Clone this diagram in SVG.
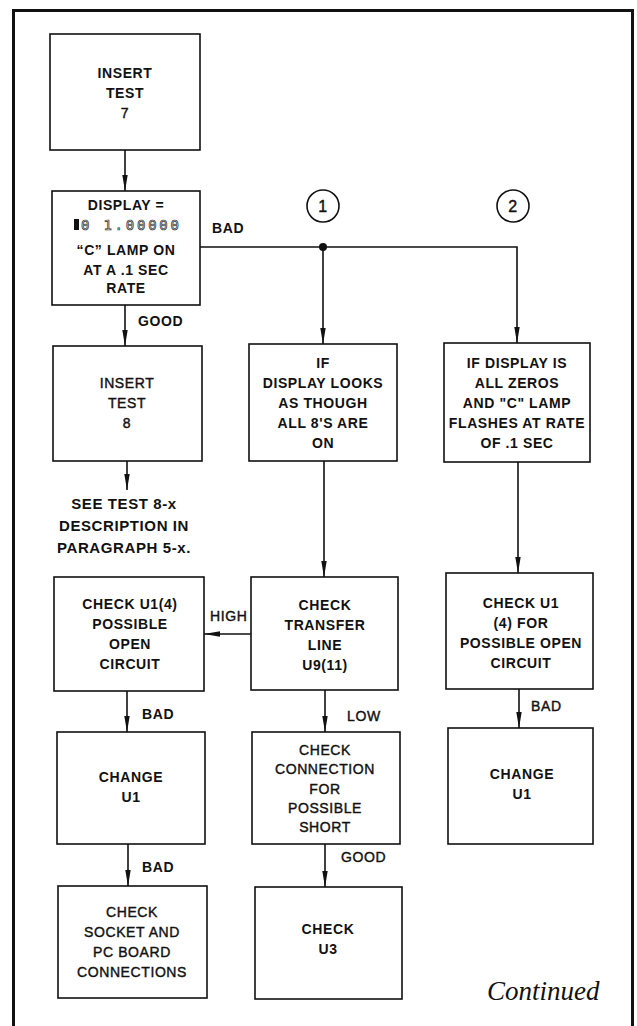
<svg xmlns="http://www.w3.org/2000/svg" width="637" height="1026" viewBox="0 0 637 1026">
<style>
.t{font-family:"Liberation Sans",Arial,sans-serif;font-weight:bold;font-size:14px;letter-spacing:0.6px;text-anchor:middle;fill:#111}
.r{font-weight:normal;stroke:#111;stroke-width:0.4}
.s{text-anchor:start}
.box{fill:#fff;stroke:#111;stroke-width:1.6}
.ln{fill:none;stroke:#111;stroke-width:1.6}
.fr{fill:none;stroke:#111;stroke-width:3}
</style>
<defs>
<marker id="ah" markerUnits="userSpaceOnUse" markerWidth="17" markerHeight="7" refX="16" refY="3.5" orient="auto">
<path d="M0,0.8 L16,3.5 L0,6.2 z" fill="#111"/>
</marker>
</defs>
<rect width="637" height="1026" fill="#fff"/>
<path class="fr" d="M13.5,1026 V10.5 H632.5 V1026"/>

<g id="connectors">
<line class="ln" x1="125" y1="150" x2="125" y2="191" marker-end="url(#ah)"/>
<polyline class="ln" points="200,247 517,247 517,343" marker-end="url(#ah)"/>
<circle cx="323" cy="247" r="4" fill="#111"/>
<line class="ln" x1="323" y1="247" x2="323" y2="344" marker-end="url(#ah)"/>
<line class="ln" x1="125" y1="305" x2="125" y2="346" marker-end="url(#ah)"/>
<line class="ln" x1="127" y1="461" x2="127" y2="490" marker-end="url(#ah)"/>
<line class="ln" x1="324" y1="461" x2="324" y2="577" marker-end="url(#ah)"/>
<line class="ln" x1="518" y1="462" x2="518" y2="573" marker-end="url(#ah)"/>
<line class="ln" x1="251" y1="634" x2="204" y2="634" marker-end="url(#ah)"/>
<line class="ln" x1="127" y1="691" x2="127" y2="732" marker-end="url(#ah)"/>
<line class="ln" x1="325" y1="690" x2="325" y2="732" marker-end="url(#ah)"/>
<line class="ln" x1="519" y1="689" x2="519" y2="728" marker-end="url(#ah)"/>
<line class="ln" x1="128" y1="844" x2="128" y2="886" marker-end="url(#ah)"/>
<line class="ln" x1="325" y1="844" x2="325" y2="887" marker-end="url(#ah)"/>
<text class="t s" x="212" y="233">BAD</text>
<text class="t s" x="138" y="326">GOOD</text>
<text class="t s r" x="210" y="621">HIGH</text>
<text class="t s" x="142" y="719">BAD</text>
<text class="t s r" x="347" y="721">LOW</text>
<text class="t s r" x="531" y="711">BAD</text>
<text class="t s" x="142" y="872">BAD</text>
<text class="t s r" x="341" y="862">GOOD</text>
</g>

<g id="c1"><circle cx="323" cy="206" r="16" class="ln"/><text class="t r" x="323" y="212" style="font-size:16px">1</text></g>
<g id="c2"><circle cx="513" cy="206" r="16" class="ln"/><text class="t r" x="513" y="212" style="font-size:16px">2</text></g>

<g id="n1"><rect class="box" x="50" y="34" width="150" height="116"/>
<text class="t" x="125" y="78">INSERT</text><text class="t" x="125" y="98">TEST</text><text class="t r" x="125" y="118">7</text></g>

<g id="n2"><rect class="box" x="52" y="191" width="148" height="114"/>
<text class="t" x="126" y="210">DISPLAY =</text>
<rect x="74" y="219" width="5" height="11" fill="#111"/>
<text x="81" y="230" textLength="98" lengthAdjust="spacing" style="font-family:'DejaVu Sans Mono',monospace;font-size:14px;fill:none;stroke:#222;stroke-width:0.7">0 1.00000</text>
<text class="t" x="126" y="255">“C” LAMP ON</text><text class="t" x="126" y="275">AT A .1 SEC</text><text class="t" x="126" y="293">RATE</text></g>

<g id="n3"><rect class="box" x="53" y="346" width="149" height="115"/>
<text class="t r" x="127" y="388">INSERT</text><text class="t r" x="127" y="408">TEST</text><text class="t r" x="127" y="428">8</text></g>

<g id="note"><text class="t" x="124" y="509" style="font-size:15px">SEE TEST 8-x</text><text class="t" x="124" y="531" style="font-size:15px">DESCRIPTION IN</text><text class="t" x="124" y="553" style="font-size:15px">PARAGRAPH 5-x.</text></g>

<g id="n4"><rect class="box" x="249" y="344" width="148" height="117"/>
<text class="t" x="323" y="368">IF</text><text class="t" x="323" y="388">DISPLAY LOOKS</text><text class="t" x="323" y="408">AS THOUGH</text><text class="t" x="323" y="428">ALL 8'S ARE</text><text class="t" x="323" y="448">ON</text></g>

<g id="n5"><rect class="box" x="444" y="343" width="146" height="119"/>
<text class="t" x="517" y="368">IF DISPLAY IS</text><text class="t" x="517" y="388">ALL ZEROS</text><text class="t" x="517" y="408">AND "C" LAMP</text><text class="t" x="517" y="428">FLASHES AT RATE</text><text class="t" x="517" y="448">OF .1 SEC</text></g>

<g id="n6"><rect class="box" x="54" y="577" width="150" height="114"/>
<text class="t" x="130" y="609">CHECK U1(4)</text><text class="t" x="130" y="629">POSSIBLE</text><text class="t" x="130" y="649">OPEN</text><text class="t" x="130" y="669">CIRCUIT</text></g>

<g id="n7"><rect class="box" x="251" y="577" width="147" height="113"/>
<text class="t" x="325" y="610">CHECK</text><text class="t" x="325" y="630">TRANSFER</text><text class="t" x="325" y="650">LINE</text><text class="t" x="325" y="670">U9(11)</text></g>

<g id="n8"><rect class="box" x="446" y="573" width="147" height="116"/>
<text class="t" x="521" y="608">CHECK U1</text><text class="t" x="521" y="628">(4) FOR</text><text class="t" x="521" y="648">POSSIBLE OPEN</text><text class="t" x="521" y="668">CIRCUIT</text></g>

<g id="n9"><rect class="box" x="57" y="732" width="148" height="112"/>
<text class="t" x="131" y="782">CHANGE</text><text class="t" x="131" y="802">U1</text></g>

<g id="n10"><rect class="box" x="252" y="732" width="148" height="112"/>
<text class="t r" x="325" y="755">CHECK</text><text class="t r" x="325" y="774">CONNECTION</text><text class="t r" x="325" y="794">FOR</text><text class="t r" x="325" y="813">POSSIBLE</text><text class="t r" x="325" y="832">SHORT</text></g>

<g id="n11"><rect class="box" x="448" y="728" width="145" height="116"/>
<text class="t" x="522" y="779">CHANGE</text><text class="t" x="522" y="799">U1</text></g>

<g id="n12"><rect class="box" x="58" y="886" width="149" height="112"/>
<text class="t r" x="132" y="917">CHECK</text><text class="t r" x="132" y="937">SOCKET AND</text><text class="t r" x="132" y="957">PC BOARD</text><text class="t r" x="132" y="977">CONNECTIONS</text></g>

<g id="n13"><rect class="box" x="255" y="887" width="147" height="112"/>
<text class="t" x="328" y="934">CHECK</text><text class="t" x="328" y="954">U3</text></g>

<text x="487" y="1000" style="font-family:'Liberation Serif','Times New Roman',serif;font-style:italic;font-size:27px;fill:#111">Continued</text>
</svg>
